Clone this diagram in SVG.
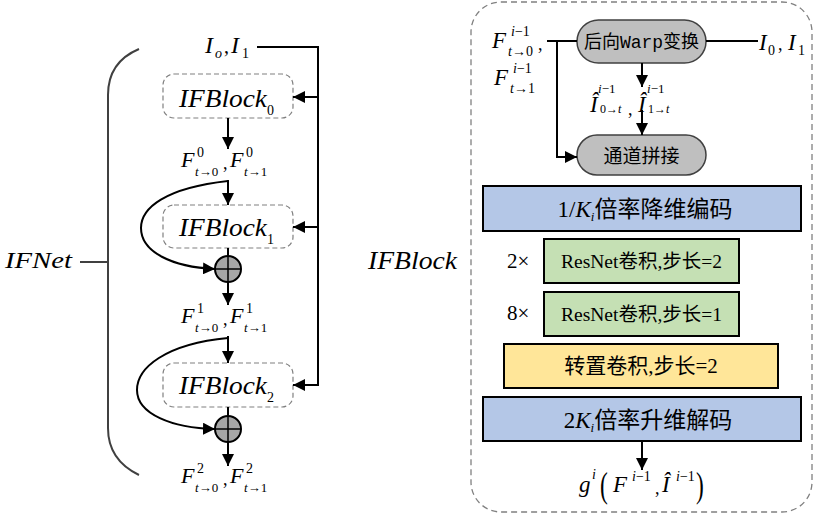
<svg xmlns="http://www.w3.org/2000/svg" width="819" height="515" viewBox="0 0 819 515">
<defs>
<style>
.mi{font-family:"Liberation Serif","Times New Roman",serif;font-style:italic;fill:#000}
.rm{font-family:"Liberation Serif","Times New Roman",serif;font-style:normal;fill:#000}
.cn{font-family:"Liberation Serif","Noto Sans CJK SC",serif;fill:#000}
.ln{fill:none;stroke:#000;stroke-width:2}
.blk{fill:none;stroke:#808080;stroke-width:1.2;stroke-dasharray:5,3}
.pill{fill:#bfbfbf;stroke:#404040;stroke-width:1.5}
.box{stroke:#000;stroke-width:2}
.sum{fill:#a6a6a6;stroke:#000;stroke-width:2}
</style>
<marker id="ah" viewBox="0 0 12 12" refX="12" refY="6" markerWidth="12" markerHeight="12" markerUnits="userSpaceOnUse" orient="auto">
<path d="M0,0 L12,6 L0,12 z" fill="#000"/>
</marker>
</defs>

<!-- Left: IFNet -->
<g id="ifnet-brace">
<path d="M139,49 Q108,62 108,95 L108,428 Q108,460 139,475" fill="none" stroke="#404040" stroke-width="2"/>
<line x1="80" y1="262" x2="108" y2="262" stroke="#404040" stroke-width="2"/>
<text class="mi" x="5" y="268" font-size="24" textLength="67" lengthAdjust="spacingAndGlyphs">IFNet</text>
</g>

<g id="input-I">
<text class="mi" x="205" y="53" font-size="24">I</text>
<text class="mi" x="215" y="58" font-size="14">o</text>
<text class="rm" x="224" y="53" font-size="20">,</text>
<text class="mi" x="231" y="53" font-size="24">I</text>
<text class="rm" x="242" y="58" font-size="14">1</text>
</g>

<g id="ifblock0">
<rect class="blk" x="163" y="74" width="130" height="44" rx="11"/>
<text class="mi" x="179" y="107" font-size="25" textLength="88" lengthAdjust="spacingAndGlyphs">IFBlock</text>
<text class="rm" x="267" y="115" font-size="14">0</text>
</g>

<g id="flow0">
<text class="mi" x="181" y="167" font-size="22">F</text>
<text class="rm" x="197" y="157" font-size="14">0</text>
<text x="195" y="176" font-size="13"><tspan class="mi">t</tspan><tspan class="rm">→0</tspan></text>
<text class="rm" x="223" y="169" font-size="18">,</text>
<text class="mi" x="230" y="167" font-size="22">F</text>
<text class="rm" x="246" y="157" font-size="14">0</text>
<text x="244" y="176" font-size="13"><tspan class="mi">t</tspan><tspan class="rm">→1</tspan></text>
</g>

<g id="ifblock1">
<rect class="blk" x="163" y="205" width="130" height="43" rx="11"/>
<text class="mi" x="179" y="236" font-size="25" textLength="88" lengthAdjust="spacingAndGlyphs">IFBlock</text>
<text class="rm" x="267" y="244" font-size="14">1</text>
</g>

<g id="sum1">
<circle class="sum" cx="228" cy="269" r="13"/>
<line x1="215" y1="269" x2="241" y2="269" stroke="#000" stroke-width="1.5"/>
<line x1="228" y1="256" x2="228" y2="282" stroke="#000" stroke-width="1.5"/>
</g>

<g id="flow1">
<text class="mi" x="181" y="323" font-size="22">F</text>
<text class="rm" x="197" y="313" font-size="14">1</text>
<text x="195" y="332" font-size="13"><tspan class="mi">t</tspan><tspan class="rm">→0</tspan></text>
<text class="rm" x="223" y="325" font-size="18">,</text>
<text class="mi" x="230" y="323" font-size="22">F</text>
<text class="rm" x="246" y="313" font-size="14">1</text>
<text x="244" y="332" font-size="13"><tspan class="mi">t</tspan><tspan class="rm">→1</tspan></text>
</g>

<g id="ifblock2">
<rect class="blk" x="163" y="363" width="130" height="44" rx="11"/>
<text class="mi" x="179" y="394" font-size="25" textLength="88" lengthAdjust="spacingAndGlyphs">IFBlock</text>
<text class="rm" x="267" y="402" font-size="14">2</text>
</g>

<g id="sum2">
<circle class="sum" cx="228" cy="429" r="13"/>
<line x1="215" y1="429" x2="241" y2="429" stroke="#000" stroke-width="1.5"/>
<line x1="228" y1="416" x2="228" y2="442" stroke="#000" stroke-width="1.5"/>
</g>

<g id="flow2">
<text class="mi" x="181" y="483" font-size="22">F</text>
<text class="rm" x="197" y="473" font-size="14">2</text>
<text x="195" y="492" font-size="13"><tspan class="mi">t</tspan><tspan class="rm">→0</tspan></text>
<text class="rm" x="223" y="485" font-size="18">,</text>
<text class="mi" x="230" y="483" font-size="22">F</text>
<text class="rm" x="246" y="473" font-size="14">2</text>
<text x="244" y="492" font-size="13"><tspan class="mi">t</tspan><tspan class="rm">→1</tspan></text>
</g>

<!-- Right: IFBlock -->
<g id="ifblock-frame">
<rect x="471" y="2" width="341" height="510" rx="30" fill="none" stroke="#808080" stroke-width="1.3" stroke-dasharray="6,4"/>
<text class="mi" x="368" y="269" font-size="25" textLength="89" lengthAdjust="spacingAndGlyphs">IFBlock</text>
</g>

<g id="flow-in">
<text class="mi" x="492" y="48" font-size="23">F</text>
<text x="511" y="36" font-size="14"><tspan class="mi">i</tspan><tspan class="rm">−1</tspan></text>
<text x="508" y="56" font-size="14"><tspan class="mi">t</tspan><tspan class="rm">→0</tspan></text>
<text class="rm" x="538" y="50" font-size="18">,</text>
<text class="mi" x="494" y="85" font-size="23">F</text>
<text x="513" y="73" font-size="14"><tspan class="mi">i</tspan><tspan class="rm">−1</tspan></text>
<text x="510" y="93" font-size="14"><tspan class="mi">t</tspan><tspan class="rm">→1</tspan></text>
</g>

<g id="warp">
<rect class="pill" x="577" y="20" width="129" height="43" rx="21.5"/>
<text class="cn" x="641.5" y="48" font-size="18" text-anchor="middle">后向<tspan font-family="Liberation Mono,monospace">Warp</tspan>变换</text>
</g>

<g id="input-I01">
<text class="mi" x="759" y="50" font-size="23">I</text>
<text class="rm" x="768" y="55" font-size="14">0</text>
<text class="rm" x="778" y="50" font-size="18">,</text>
<text class="mi" x="788" y="50" font-size="23">I</text>
<text class="rm" x="798" y="55" font-size="14">1</text>
</g>

<g id="warped">
<text class="mi" x="590" y="112" font-size="23">Î</text>
<text x="598" y="93" font-size="13"><tspan class="mi">i</tspan><tspan class="rm">−1</tspan></text>
<text x="600" y="113" font-size="12"><tspan class="rm">0→</tspan><tspan class="mi">t</tspan></text>
<text class="rm" x="628" y="115" font-size="18">,</text>
<text class="mi" x="638" y="112" font-size="23">Î</text>
<text x="647" y="93" font-size="13"><tspan class="mi">i</tspan><tspan class="rm">−1</tspan></text>
<text x="648" y="113" font-size="12"><tspan class="rm">1→</tspan><tspan class="mi">t</tspan></text>
</g>

<g id="concat">
<rect class="pill" x="577" y="135" width="129" height="40" rx="20"/>
<text class="cn" x="641.5" y="163" font-size="19" text-anchor="middle">通道拼接</text>
</g>

<g id="encode">
<rect class="box" x="483" y="186" width="318" height="45" fill="#b4c7e7"/>
<text class="cn" x="645" y="217" font-size="23" text-anchor="middle"><tspan class="rm">1/</tspan><tspan class="mi">K</tspan><tspan class="mi" font-size="13" dy="4">i</tspan><tspan dy="-4">倍率降维编码</tspan></text>
</g>

<g id="resnet2">
<text class="rm" x="507" y="268" font-size="21">2×</text>
<rect class="box" x="544" y="239" width="195" height="44" fill="#c5e0b4"/>
<text class="cn" x="641.5" y="268" font-size="19.5" text-anchor="middle">ResNet卷积,步长=2</text>
</g>

<g id="resnet1">
<text class="rm" x="507" y="320" font-size="21">8×</text>
<rect class="box" x="544" y="292" width="195" height="44" fill="#c5e0b4"/>
<text class="cn" x="641.5" y="321" font-size="19.5" text-anchor="middle">ResNet卷积,步长=1</text>
</g>

<g id="transconv">
<rect class="box" x="504" y="344" width="274" height="44" fill="#ffe699"/>
<text class="cn" x="641" y="373" font-size="21" text-anchor="middle">转置卷积,步长=2</text>
</g>

<g id="decode">
<rect class="box" x="483" y="397" width="318" height="44" fill="#b4c7e7"/>
<text class="cn" x="648" y="428" font-size="23" text-anchor="middle"><tspan class="rm">2</tspan><tspan class="mi">K</tspan><tspan class="mi" font-size="13" dy="4">i</tspan><tspan dy="-4">倍率升维解码</tspan></text>
</g>

<g id="output">
<text class="mi" x="579" y="492" font-size="23">g</text>
<text class="mi" x="592" y="479" font-size="14">i</text>
<text class="rm" x="600" y="497" font-size="36" transform="translate(600 497) scale(0.65 1) translate(-600 -497)">(</text>
<text class="mi" x="613" y="492" font-size="23">F</text>
<text x="632" y="481" font-size="14"><tspan class="mi">i</tspan><tspan class="rm">−1</tspan></text>
<text class="rm" x="655" y="494" font-size="18">,</text>
<text class="mi" x="662" y="492" font-size="23">Î</text>
<text x="676" y="481" font-size="14"><tspan class="mi">i</tspan><tspan class="rm">−1</tspan></text>
<text class="rm" x="696" y="497" font-size="36" transform="translate(696 497) scale(0.65 1) translate(-696 -497)">)</text>
</g>

<g id="connectors">
<!-- left -->
<path class="ln" d="M257,47 H318 V385 H293" marker-end="url(#ah)"/>
<path class="ln" d="M318,97 H293" marker-end="url(#ah)"/>
<path class="ln" d="M318,227 H293" marker-end="url(#ah)"/>
<path class="ln" d="M228,118 V149" marker-end="url(#ah)"/>
<path class="ln" d="M228,180 V205" marker-end="url(#ah)"/>
<path class="ln" d="M228,181 C165,188 141,208 141,228 C141,252 172,267 215,269" marker-end="url(#ah)"/>
<path class="ln" d="M228,248 V256"/>
<path class="ln" d="M228,282 V305" marker-end="url(#ah)"/>
<path class="ln" d="M228,336 V363" marker-end="url(#ah)"/>
<path class="ln" d="M228,338 C165,344 137,368 137,390 C137,414 172,428 215,429" marker-end="url(#ah)"/>
<path class="ln" d="M228,407 V416"/>
<path class="ln" d="M228,442 V466" marker-end="url(#ah)"/>
<!-- right -->
<path class="ln" d="M547,41 H577"/>
<path class="ln" d="M557,41 V157 H577" marker-end="url(#ah)"/>
<path class="ln" d="M706,41 H758"/>
<path class="ln" d="M642,63 V87" marker-end="url(#ah)"/>
<path class="ln" d="M642,110 V135" marker-end="url(#ah)"/>
<path class="ln" d="M642,441 V470" marker-end="url(#ah)"/>
</g>
</svg>
